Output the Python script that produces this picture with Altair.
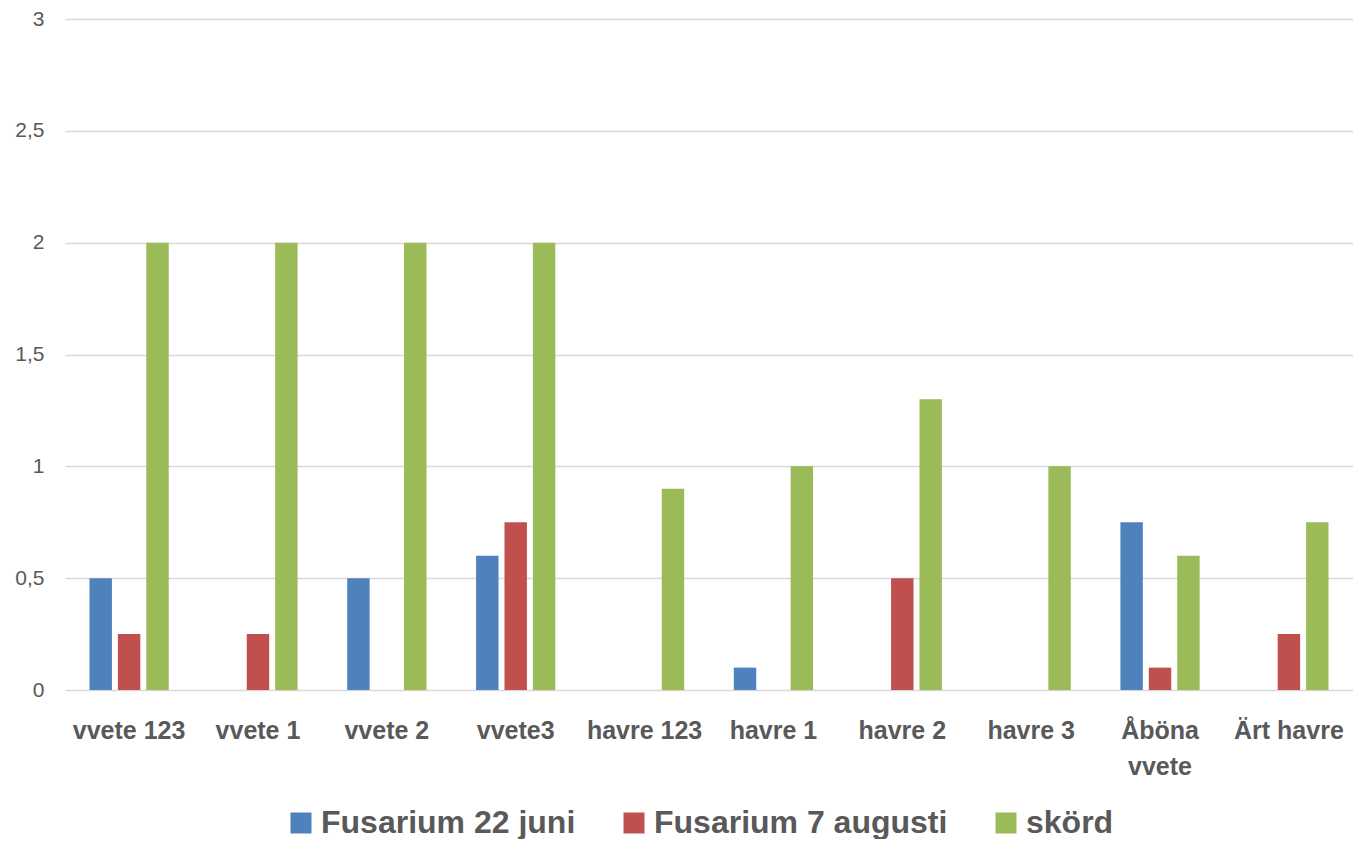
import altair as alt
import pandas as pd

categories = ["vvete 123", "vvete 1", "vvete 2", "vvete3", "havre 123",
              "havre 1", "havre 2", "havre 3", "Åböna vvete", "Ärt havre"]
series = ["Fusarium 22 juni", "Fusarium 7 augusti", "skörd"]
fus_juni = [0.5, 0, 0.5, 0.6, 0, 0.1, 0, 0, 0.75, 0]
fus_aug = [0.25, 0.25, 0, 0.75, 0, 0, 0.5, 0, 0.1, 0.25]
skord = [2, 2, 2, 2, 0.9, 1, 1.3, 1, 0.6, 0.75]
colors = ["#4F81BD", "#C0504D", "#9BBB59"]
y_ticks = [0, 0.5, 1, 1.5, 2, 2.5, 3]

rows = []
for name, vals in zip(series, [fus_juni, fus_aug, skord]):
    for c, v in zip(categories, vals):
        rows.append({"kategori": c, "serie": name, "värde": v})
df = pd.DataFrame(rows)

FONT = "Liberation Sans"
GREY = "#595959"

chart = alt.Chart(df).mark_bar().encode(
    x=alt.X("kategori:N", sort=categories, title=None,
            scale=alt.Scale(paddingInner=0.385, paddingOuter=0.19),
            axis=alt.Axis(labelAngle=0, domain=False, ticks=False,
                          labelFont=FONT, labelFontSize=25, labelFontWeight="bold",
                          labelColor=GREY, labelPadding=28, labelLineHeight=36,
                          labelBaseline="top",
                          labelExpr="datum.value == 'Åböna vvete' ? ['Åböna', 'vvete'] : datum.value")),
    xOffset=alt.XOffset("serie:N", sort=series,
                        scale=alt.Scale(paddingInner=0.21, paddingOuter=0)),
    y=alt.Y("värde:Q", title=None,
            scale=alt.Scale(domain=[0, 3], nice=False),
            axis=alt.Axis(values=y_ticks, domain=False, ticks=False,
                          labelFont=FONT, labelFontSize=21, labelColor=GREY,
                          labelPadding=21, gridColor="#D9D9D9", gridWidth=1.3,
                          labelExpr="replace(format(datum.value, ''), '.', ',')")),
    color=alt.Color("serie:N", sort=series,
                    scale=alt.Scale(domain=series, range=colors),
                    legend=alt.Legend(title=None, orient="none", direction="horizontal",
                                      legendX=220, legendY=788,
                                      symbolType="square", symbolSize=441,
                                      symbolStrokeWidth=0, symbolOpacity=1,
                                      labelFont=FONT, labelFontSize=32,
                                      labelFontWeight="bold", labelColor=GREY,
                                      labelOffset=4, columnPadding=42,
                                      labelLimit=0)),
).properties(
    width=1288,
    height=671,
    padding={"left": 57, "top": 11, "right": 0, "bottom": 149},
    autosize=alt.AutoSizeParams(type="none"),
).configure_view(stroke=None)

chart.save("out.html", embed_options={"renderer": "svg", "actions": False})
